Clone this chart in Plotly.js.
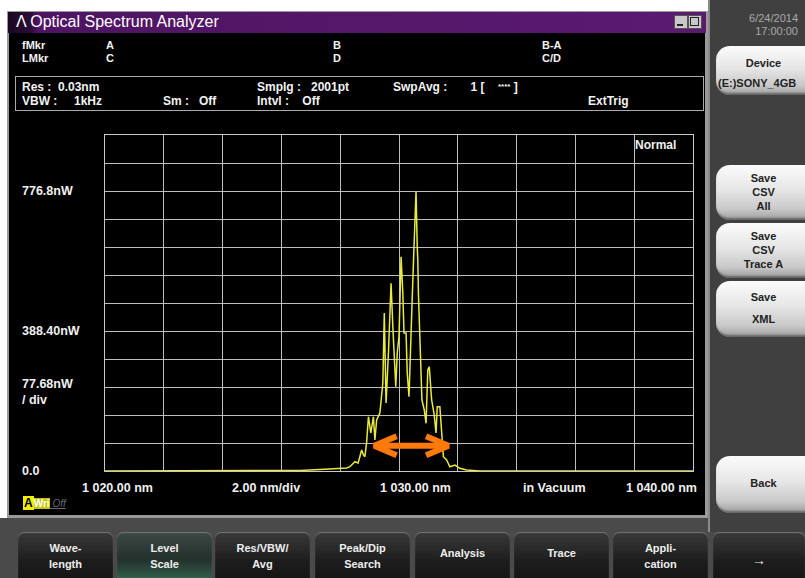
<!DOCTYPE html>
<html><head><meta charset="utf-8">
<script src="https://cdn.plot.ly/plotly-3.0.1.min.js"></script>
<style>
body{margin:0;width:805px;height:578px;overflow:hidden;background:#fff;font-family:"Liberation Sans",Arial,sans-serif;position:relative;}
.a{position:absolute;white-space:nowrap;}
.t{color:#f2f2f2;font-weight:bold;font-size:12px;line-height:12px;}
.m{color:#f2f2f2;font-weight:bold;font-size:11px;line-height:11px;}
.rb{position:absolute;left:716px;width:95px;border-radius:14px 0 0 14px;background:linear-gradient(#fbfbfb 0%,#e6e6e6 45%,#c9c9c9 80%,#9c9c9c 100%);color:#222;font-weight:bold;font-size:11px;text-align:center;box-shadow:inset -1px -2px 2px #666;}
.bb{position:absolute;top:532px;height:50px;width:95px;border-radius:6px 6px 0 0;background:linear-gradient(#3a3a3a,#1c1c1c 60%,#141414);color:#eee;font-weight:bold;font-size:11px;text-align:center;box-shadow:inset 0 1px 1px #777;}
</style></head>
<body>
<!-- chrome -->
<div class="a" style="left:7px;top:11px;width:701px;height:507px;background:#9a9a9a;"></div>
<div class="a" style="left:8px;top:12px;width:698px;height:21px;background:linear-gradient(to right,#1a0820 0px,#2a0c35 22px,#4f1463 30px,#5a1a70 100%);"></div>
<div class="a" style="left:9px;top:33px;width:696px;height:482px;background:#000;"></div>
<div class="a" style="left:16px;top:13px;color:#fff;font-size:16px;">&#923; Optical Spectrum Analyzer</div>
<div class="a" style="left:674px;top:15px;width:12px;height:12px;background:#c8c8c8;border:1px solid #555;"></div>
<div class="a" style="left:677px;top:24px;width:6px;height:2px;background:#222;"></div>
<div class="a" style="left:688px;top:15px;width:12px;height:12px;background:#c8c8c8;border:1px solid #555;"></div>
<div class="a" style="left:690px;top:17px;width:7px;height:7px;border:1px solid #222;"></div>
<div class="a" style="left:0;top:518px;width:805px;height:60px;background:#4a4a4a;"></div>
<div class="a" style="left:708px;top:0;width:97px;height:532px;background:#404040;border-left:2px solid #8a8a8a;"></div>
<div class="a" style="left:738px;top:12px;color:#aaa;font-size:11px;text-align:right;width:60px;line-height:13px;">6/24/2014<br>17:00:00</div>

<div class="a m" style="left:22px;top:40px;">fMkr</div>
<div class="a m" style="left:22px;top:53px;">LMkr</div>
<div class="a m" style="left:106px;top:40px;">A</div>
<div class="a m" style="left:106px;top:53px;">C</div>
<div class="a m" style="left:333px;top:40px;">B</div>
<div class="a m" style="left:333px;top:53px;">D</div>
<div class="a m" style="left:542px;top:40px;">B-A</div>
<div class="a m" style="left:542px;top:53px;">C/D</div>

<div class="a" style="left:15px;top:76px;width:687px;height:33px;border:1px solid #aaa;"></div>
<div class="a t" style="left:22px;top:81px;">Res :&nbsp; 0.03nm</div>
<div class="a t" style="left:22px;top:95px;">VBW :&nbsp;&nbsp;&nbsp;&nbsp; 1kHz</div>
<div class="a t" style="left:163px;top:95px;">Sm :&nbsp;&nbsp; Off</div>
<div class="a t" style="left:257px;top:81px;">Smplg :&nbsp;&nbsp; 2001pt</div>
<div class="a t" style="left:257px;top:95px;">Intvl :&nbsp;&nbsp;&nbsp; Off</div>
<div class="a t" style="left:393px;top:81px;">SwpAvg :&nbsp;&nbsp;&nbsp;&nbsp;&nbsp;&nbsp; 1 [&nbsp;&nbsp;&nbsp; <span style="font-size:8px;vertical-align:top">****</span> ]</div>
<div class="a t" style="left:588px;top:95px;">ExtTrig</div>

<div class="a" style="left:23px;top:497px;font-weight:bold;font-size:12px;line-height:13px;">
<span style="background:#f0f000;color:#000;padding:0 1px;">A</span><span style="background:#c8c800;color:#fff;font-size:10px;">Wri</span><span style="color:#6a6a6a;font-size:10px;font-style:italic;text-decoration:underline;font-weight:normal;"> Off</span></div>

<div class="rb" style="top:46px;height:49px;"><div style="margin-top:11px;font-size:11px;">Device</div><div style="margin-top:8px;text-align:left;padding-left:2px;font-size:11px;">(E:)SONY_4GB</div></div>
<div class="rb" style="top:165px;height:55px;line-height:14px;"><div style="margin-top:6px;">Save<br>CSV<br>All</div></div>
<div class="rb" style="top:223px;height:55px;line-height:14px;"><div style="margin-top:6px;">Save<br>CSV<br>Trace A</div></div>
<div class="rb" style="top:281px;height:56px;line-height:14px;"><div style="margin-top:9px;">Save</div><div style="margin-top:8px;">XML</div></div>
<div class="rb" style="top:456px;height:57px;"><div style="margin-top:21px;">Back</div></div>

<div class="bb" style="left:18px;"><div style="margin-top:8px;line-height:16px;">Wave-<br>length</div></div>
<div class="bb" style="left:117px;background:linear-gradient(#3c4a46,#24302c 55%,#2f5a48 90%,#5fb090 100%);"><div style="margin-top:8px;line-height:16px;">Level<br>Scale</div></div>
<div class="bb" style="left:215px;"><div style="margin-top:8px;line-height:16px;">Res/VBW/<br>Avg</div></div>
<div class="bb" style="left:315px;"><div style="margin-top:8px;line-height:16px;">Peak/Dip<br>Search</div></div>
<div class="bb" style="left:415px;"><div style="margin-top:15px;">Analysis</div></div>
<div class="bb" style="left:514px;"><div style="margin-top:15px;">Trace</div></div>
<div class="bb" style="left:613px;"><div style="margin-top:8px;line-height:16px;">Appli-<br>cation</div></div>
<div class="bb" style="left:713px;width:92px;"><div style="margin-top:20px;font-size:14px;">&#8594;</div></div>

<div id="plot" class="a" style="left:0;top:0;width:805px;height:578px;"></div>
<script>
// Wavelength (nm) and power (nW)
const wavelength = [1020.00,1024.93,1026.63,1027.31,1027.65,1028.10,1028.22,1028.33,1028.43,1028.50,1028.61,1028.67,1028.73,1028.79,1028.84,1028.90,1028.96,1029.04,1029.13,1029.18,1029.24,1029.35,1029.45,1029.50,1029.56,1029.64,1029.69,1029.73,1029.79,1029.83,1029.89,1029.94,1030.00,1030.03,1030.07,1030.13,1030.17,1030.24,1030.28,1030.34,1030.38,1030.44,1030.51,1030.58,1030.62,1030.64,1030.66,1030.71,1030.78,1030.86,1030.92,1030.98,1031.03,1031.11,1031.19,1031.26,1031.30,1031.39,1031.45,1031.51,1031.62,1031.73,1031.90,1032.07,1032.30,1032.76,1040.00];
const power = [0,0,1.4,4.2,5.5,6.9,8.5,11.9,19,25.8,22.2,40,58.3,45,39.7,80,150.6,105.4,150.6,86.0,141.5,160.9,244.1,438.3,188.7,327.4,469.7,520.7,400.3,327.4,233.9,327.4,372.6,466.1,594.5,493.8,382.9,382.9,271.9,206.1,327.4,455.8,622.3,774.9,622.3,585.4,493.8,382.9,197.0,169.2,132.3,280.2,289.4,197.0,160.1,105.4,178.4,178.4,95.2,39.7,30.5,11.9,16.6,7.5,2.8,0,0];
// Orange double arrow marking the spectral width
const arrowX = [1029.16,1031.68];
const arrowY = 70.2;
const xTickVals = [1020,1030,1040];
const xTickText = ["1 020.00 nm","1 030.00 nm","1 040.00 nm"];
const yTickVals = [776.8,388.4,0];
const yTickText = ["776.8nW","388.40nW","0.0"];
const yDiv = 77.68, yTop = 12*77.68;

const headDx = 0.76, headDy = 26.4;
const arrowTrace = {
  x:[arrowX[0]+headDx,arrowX[0],arrowX[0]+headDx,null,arrowX[0],arrowX[1],null,arrowX[1]-headDx,arrowX[1],arrowX[1]-headDx],
  y:[arrowY+headDy,arrowY,arrowY-headDy,null,arrowY,arrowY,null,arrowY+headDy,arrowY,arrowY-headDy],
  mode:'lines',line:{color:'#ff7a0a',width:6},hoverinfo:'skip',cliponaxis:false
};
const spec = {x:wavelength,y:power,mode:'lines',line:{color:'#eaea3a',width:1.5},hoverinfo:'skip',cliponaxis:false};

const lab = (t,x,y,xa,extra)=>Object.assign({text:t,xref:'paper',yref:'y',x:x,y:y,xanchor:xa,yanchor:'middle',showarrow:false,font:{family:'Liberation Sans, Arial',size:12.5,color:'#f0f0f0'}},extra||{});
const ann = [];
yTickVals.forEach((v,i)=>ann.push(lab('<b>'+yTickText[i]+'</b>',-0.1446,v,'left')));
ann.push(lab('<b>77.68nW<br>/ div</b>',-0.1446,219,'left',{align:'left'}));
const xpos = [0.0221,0.5289,1.0102];
const xanc = ['center','center','right'];
xTickVals.forEach((v,i)=>ann.push(lab('<b>'+xTickText[i]+'</b>',xpos[i],-0.0506,xanc[i],{yref:'paper'})));
ann.push(lab('<b>2.00 nm/div</b>',0.2730,-0.0506,'center',{yref:'paper'}));
ann.push(lab('<b>in Vacuum</b>',0.765,-0.0506,'center',{yref:'paper'}));
ann.push(lab('<b>Normal</b>',0.975,0.97,'right',{yref:'paper',font:{family:'Liberation Sans, Arial',size:12,color:'#f0f0f0'}}));

const layout = {
  width:805,height:578,margin:{l:105,r:112,t:135,b:107},
  paper_bgcolor:'rgba(0,0,0,0)',plot_bgcolor:'#000',showlegend:false,
  xaxis:{range:[1020,1040],dtick:2,tick0:1020,showticklabels:false,ticks:'',showgrid:true,gridcolor:'#bdbdbd',gridwidth:1,zeroline:false,showline:true,linecolor:'#c8c8c8',linewidth:1,mirror:true,fixedrange:true},
  yaxis:{range:[0,yTop],dtick:yDiv,tick0:0,showticklabels:false,ticks:'',showgrid:true,gridcolor:'#bdbdbd',gridwidth:1,zeroline:false,showline:true,linecolor:'#c8c8c8',linewidth:1,mirror:true,fixedrange:true},
  annotations:ann
};
Plotly.newPlot('plot',[spec,arrowTrace],layout,{staticPlot:true,displayModeBar:false});
</script>
</body></html>
